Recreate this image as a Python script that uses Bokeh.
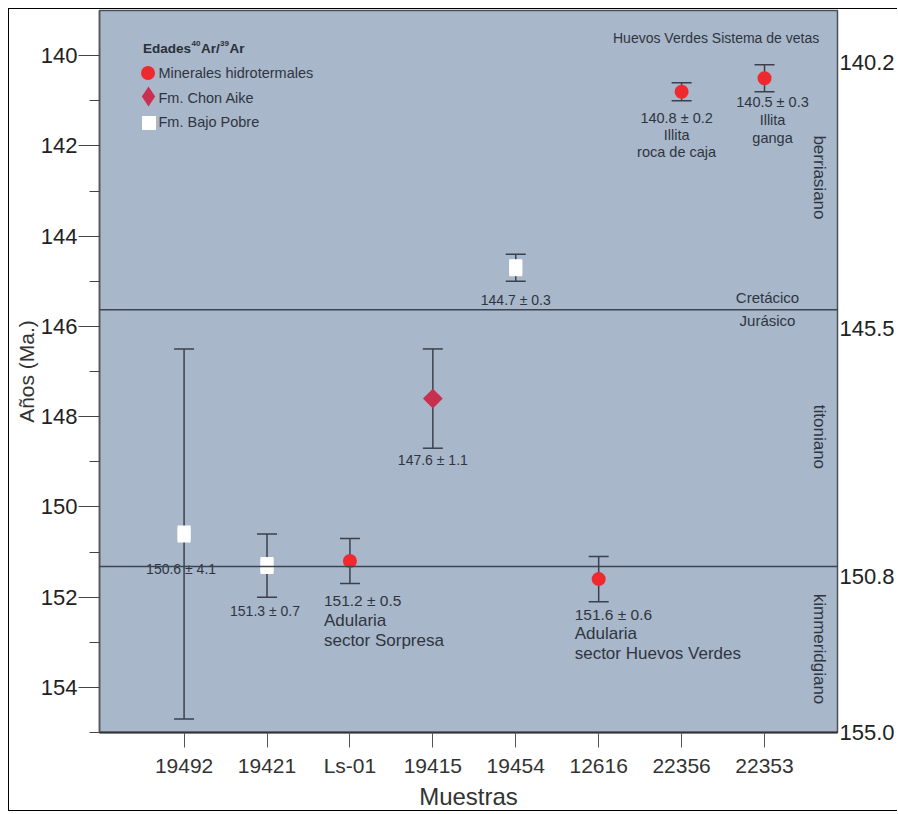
import math
from bokeh.plotting import figure
from bokeh.models import (Range1d, LinearAxis, FixedTicker, Whisker, TeeHead,
                          ColumnDataSource, Span, Label, Legend, LegendItem)
from bokeh.core.properties import value
from bokeh.embed import file_html
from bokeh.resources import INLINE

# ---------------- data ----------------
samples = ["19492", "19421", "Ls-01", "19415", "19454", "12616", "22356", "22353"]
ages = [150.6, 151.3, 151.2, 147.6, 144.7, 151.6, 140.8, 140.5]
errors = [4.1, 0.7, 0.5, 1.1, 0.3, 0.5, 0.2, 0.3]
groups = ["Fm. Bajo Pobre", "Fm. Bajo Pobre", "Minerales hidrotermales", "Fm. Chon Aike",
          "Fm. Bajo Pobre", "Minerales hidrotermales", "Minerales hidrotermales",
          "Minerales hidrotermales"]
age_labels = ["150.6 ± 4.1", "151.3 ± 0.7", "151.2 ± 0.5", "147.6 ± 1.1",
              "144.7 ± 0.3", "151.6 ± 0.6", "140.8 ± 0.2", "140.5 ± 0.3"]
extra_lines = {2: ["Adularia", "sector Sorpresa"],
               5: ["Adularia", "sector Huevos Verdes"],
               6: ["Illita", "roca de caja"],
               7: ["Illita", "ganga"]}
legend_labels = ["Minerales hidrotermales", "Fm. Chon Aike", "Fm. Bajo Pobre"]
y_ticks = [140, 142, 144, 146, 148, 150, 152, 154]
y_minor = [141, 143, 145, 147, 149, 151, 153, 155]
boundaries = [145.63, 151.32]
right_tick_pos = [140.15, 146.05, 151.55, 155.0]
right_tick_labels = ["140.2", "145.5", "150.8", "155.0"]
periods = ["berriasiano", "titoniano", "kimmeridgiano"]
period_y = [142.7, 148.45, 153.15]

FONT = "'Liberation Sans', Arial, sans-serif"
TXT = "#2f3540"
BG = "#a8b7ca"
ECOL = "#3b414c"
RED = "#ee2a2e"
CRIMSON = "#c8304f"

xs = list(range(1, len(samples) + 1))

p = figure(width=889, height=803, output_backend="svg", toolbar_location=None,
           x_range=Range1d(-0.02, 8.88), y_range=Range1d(155, 139),
           min_border_left=90, min_border_right=61, min_border_top=1, min_border_bottom=80)
p.styles = {"margin-left": "8px", "margin-top": "8px",
            "border-left": "1px solid #000", "border-top": "1px solid #000",
            "border-bottom": "1px solid #000"}
p.background_fill_color = BG
p.border_fill_color = "white"
p.outline_line_color = "#4a4f57"
p.outline_line_width = 1.5
p.grid.visible = False

# axes
p.xaxis.ticker = FixedTicker(ticks=xs)
p.xaxis.major_label_overrides = {x: s for x, s in zip(xs, samples)}
p.xaxis.major_tick_out = 15
p.xaxis.major_tick_in = 0
p.xaxis.minor_tick_line_color = None
p.xaxis.axis_line_color = "#333"
p.xaxis.axis_line_width = 2
p.xaxis.major_tick_line_color = "#555"
p.xaxis.major_label_text_font = FONT
p.xaxis.major_label_text_font_size = "21px"
p.xaxis.major_label_text_color = "#333"
p.xaxis.major_label_standoff = 6
p.xaxis.axis_label = "Muestras"
p.xaxis.axis_label_text_font = FONT
p.xaxis.axis_label_text_font_size = "24px"
p.xaxis.axis_label_text_font_style = "normal"
p.xaxis.axis_label_text_color = "#333"
p.xaxis.axis_label_standoff = 3

p.yaxis.ticker = FixedTicker(ticks=y_ticks, minor_ticks=y_minor)
p.yaxis.major_tick_out = 21
p.yaxis.major_tick_in = 0
p.yaxis.minor_tick_out = 10
p.yaxis.minor_tick_in = 0
p.yaxis.major_tick_line_color = "#444"
p.yaxis.minor_tick_line_color = "#444"
p.yaxis.axis_line_color = "#555"
p.yaxis.axis_line_width = 1.5
p.yaxis.major_label_text_font = FONT
p.yaxis.major_label_text_font_size = "22px"
p.yaxis.major_label_text_color = "#222"
p.yaxis.major_label_standoff = 1
p.yaxis.axis_label = "Años (Ma.)"
p.yaxis.axis_label_text_font = FONT
p.yaxis.axis_label_text_font_size = "21px"
p.yaxis.axis_label_text_font_style = "normal"
p.yaxis.axis_label_text_color = "#333"
p.yaxis.axis_label_standoff = 0

ra = LinearAxis(ticker=FixedTicker(ticks=right_tick_pos),
                major_label_overrides=dict(zip(right_tick_pos, right_tick_labels)),
                major_tick_line_color=None, minor_tick_line_color=None,
                major_tick_out=0, major_tick_in=0, minor_tick_out=0, minor_tick_in=0,
                axis_line_color=None, major_label_standoff=2,
                major_label_text_font=FONT, major_label_text_font_size="22px",
                major_label_text_color="#222")
p.add_layout(ra, "right")

# boundaries
for b in boundaries:
    p.add_layout(Span(location=b, dimension="width", line_color="#3b4552", line_width=1.5))

# error bars
src_all = ColumnDataSource(dict(x=xs, age=ages,
                                lower=[a - e for a, e in zip(ages, errors)],
                                upper=[a + e for a, e in zip(ages, errors)]))
p.add_layout(Whisker(source=src_all, base="x", lower="lower", upper="upper",
                     dimension="height", line_color=ECOL, line_width=1.5,
                     upper_head=TeeHead(size=20, line_color=ECOL, line_width=1.5),
                     lower_head=TeeHead(size=20, line_color=ECOL, line_width=1.5)))

def sub(g):
    idx = [i for i, gg in enumerate(groups) if gg == g]
    return ColumnDataSource(dict(x=[xs[i] for i in idx], age=[ages[i] for i in idx]))

s_h = sub(legend_labels[0])
s_c = sub(legend_labels[1])
s_b = sub(legend_labels[2])

# legend-shaped copies drawn underneath the visible marks (fully hidden by them)
r_b_leg = p.scatter("x", "age", source=s_b, marker="square", size=13,
                    fill_color="white", line_color=None)
r_c_leg = p.scatter("x", "age", source=s_c, marker="diamond", size=19,
                    fill_color=CRIMSON, line_color=None)
p.rect("x", "age", source=s_b, width=13, height=17, width_units="screen",
       height_units="screen", fill_color="white", line_color=None)
p.scatter("x", "age", source=s_c, marker="square", angle=math.pi / 4, size=14,
          fill_color=CRIMSON, line_color=None)
r_h = p.scatter("x", "age", source=s_h, marker="circle", size=14,
                fill_color=RED, line_color=None)

# legend: one entry per Legend so each swatch can be sized like the original
leg_specs = [(r_h, 35, (30.5, 642.5)), (r_c_leg, 50, (24, 611)), (r_b_leg, 35, (31.5, 592.5))]
for (rend, box, loc) in leg_specs:
    p.add_layout(Legend(items=[LegendItem(label="", renderers=[rend])],
                        location=loc, orientation="vertical",
                        background_fill_alpha=0, border_line_alpha=0,
                        glyph_width=box, glyph_height=box, label_standoff=0,
                        padding=0, margin=0, label_text_font_size="1px"))
for lab, yy in zip(legend_labels, [660, 635, 611]):
    p.add_layout(Label(x=59, y=yy, x_units="screen", y_units="screen", text=lab,
                       text_font=FONT, text_font_size="14.5px", text_color=TXT,
                       text_baseline="middle"))

# legend heading "Edades 40Ar/39Ar" with superscript mass numbers
title_parts = [("Edades", 43.5, 684, "13.5px"), ("40", 92, 689, "8px"),
               ("Ar/", 101.5, 684, "13.5px"), ("39", 120.5, 689, "8px"),
               ("Ar", 130, 684, "13.5px")]
for t, tx, ty, fs in title_parts:
    p.add_layout(Label(x=tx, y=ty, x_units="screen", y_units="screen", text=t,
                       text_font=FONT, text_font_size=fs, text_font_style="bold",
                       text_color="#2a2f38", text_baseline="middle"))

# point annotations
lx, ly, lt, ldx, ldy, lalign, lsize = [], [], [], [], [], [], []
cfg = {0: (-3, [35], "center", 14), 1: (-2, [45], "center", 14),
       2: (-26, [39, 59, 79], "left", 15.5), 3: (0, [61], "center", 14),
       4: (0, [32], "center", 14), 5: (-24, [35, 54, 74], "left", 15.5),
       6: (-5, [26, 43, 60], "center", 14.5), 7: (8, [24, 42, 60], "center", 14.5)}
for i in range(len(samples)):
    dx, dys, al, fs = cfg[i]
    lines = [age_labels[i]] + extra_lines.get(i, [])
    for k, (t, dy) in enumerate(zip(lines, dys)):
        lx.append(xs[i]); ly.append(ages[i]); lt.append(t)
        ldx.append(dx); ldy.append(dy); lalign.append(al)
        size = fs
        if i in (2, 5) and k > 0:
            size = 17
        lsize.append(f"{size}px")
p.text(x="x", y="y", text="t", x_offset="dx", y_offset="dy", text_align="al",
       text_font_size="fs",
       source=ColumnDataSource(dict(x=lx, y=ly, t=lt, dx=ldx, dy=ldy, al=lalign, fs=lsize)),
       text_font=value(FONT), text_color=TXT, text_baseline="middle")

p.add_layout(Label(x=513.5, y=695, x_units="screen", y_units="screen",
                   text="Huevos Verdes Sistema de vetas", text_font=FONT,
                   text_font_size="14px", text_color=TXT, text_baseline="middle"))
p.add_layout(Label(x=668, y=boundaries[0], x_units="screen", y_offset=12,
                   text="Cretácico", text_font=FONT, text_font_size="15px",
                   text_color=TXT, text_baseline="middle", text_align="center"))
p.add_layout(Label(x=668, y=boundaries[0], x_units="screen", y_offset=-11,
                   text="Jurásico", text_font=FONT, text_font_size="15px",
                   text_color=TXT, text_baseline="middle", text_align="center"))
for name, yy in zip(periods, period_y):
    p.add_layout(Label(x=719.5, y=yy, x_units="screen", text=name, angle=-math.pi / 2,
                       text_font=FONT, text_font_size="17px", text_color=TXT,
                       text_baseline="middle", text_align="center"))

open("out.html", "w").write(file_html(p, INLINE))
